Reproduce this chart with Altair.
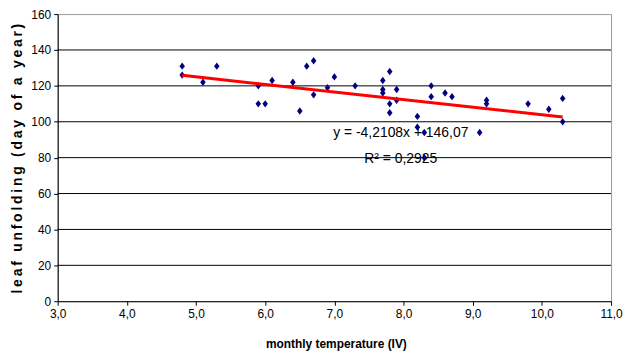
import altair as alt
import pandas as pd

# data
temp = [4.8, 4.8, 5.1, 5.3, 5.9, 5.9, 6.0, 6.1, 6.4, 6.5, 6.6, 6.7, 6.7, 6.9, 7.0, 7.3,
        7.7, 7.7, 7.7, 7.8, 7.8, 7.8, 7.9, 7.9, 8.2, 8.2, 8.3, 8.3, 8.4, 8.4, 8.6, 8.7,
        9.1, 9.2, 9.2, 9.8, 10.1, 10.3, 10.3]
day = [131, 126, 122, 131, 120, 110, 110, 123, 122, 106, 131, 134, 115, 119, 125, 120,
       123, 118, 116, 128, 110, 105, 118, 112, 103, 97, 94, 80, 120, 114, 116, 114,
       94, 112, 110, 110, 107, 113, 100]

slope = -4.2108
intercept = 146.07
line_x = [4.8, 10.3]

eq_labels = ["y = -4,2108x + 146,07", "R\u00b2 = 0,2925"]
eq_x = [7.96, 7.96]
eq_y = [94, 79]

x_ticks = [3, 4, 5, 6, 7, 8, 9, 10, 11]
y_ticks = [0, 20, 40, 60, 80, 100, 120, 140, 160]

FONT = "Liberation Sans"

pts = pd.DataFrame({"temp": temp, "day": day})
line_df = pd.DataFrame({"temp": line_x})
eq_df = pd.DataFrame({"label": eq_labels, "x": eq_x, "y": eq_y})
grid_df = pd.DataFrame({"g": y_ticks[1:-1]})

y_title = "\u2009".join(list("leaf unfolding (day of a year)"))

xscale = alt.Scale(domain=[3, 11], nice=False, zero=False)
yscale = alt.Scale(domain=[0, 160], nice=False)

xaxis = alt.Axis(
    title="monthly temperature (IV)",
    values=x_ticks,
    labelExpr="replace(format(datum.value, '.1f'), '.', ',')",
    labelOverlap=False,
    labelFlush=False,
    grid=False,
    domainColor="#000000",
    tickColor="#000000",
    tickSize=4,
    labelPadding=3,
    labelFont=FONT,
    labelFontSize=12,
    labelColor="#000000",
    titleFont=FONT,
    titleFontSize=12,
    titleFontWeight="bold",
    titleColor="#000000",
    titleX=280,
    titleY=43,
    titleBaseline="middle",
    titleAlign="center",
)

yaxis = alt.Axis(
    title=y_title,
    values=y_ticks,
    labelOverlap=False,
    labelFlush=False,
    grid=False,
    domainColor="#000000",
    tickColor="#000000",
    tickSize=4,
    labelPadding=3,
    labelFont=FONT,
    labelFontSize=12,
    labelColor="#000000",
    titleFont=FONT,
    titleFontSize=14,
    titleFontWeight="bold",
    titleColor="#000000",
    titleAngle=270,
    titleX=-40,
    titleY=145,
    titleAlign="center",
    titleBaseline="middle",
)

grid = alt.Chart(grid_df).mark_rule(color="#000000", strokeWidth=1).encode(
    y=alt.Y("g:Q", scale=yscale, axis=yaxis),
)

points = alt.Chart(pts).mark_point(
    shape="M0,-1L0.75,0L0,1L-0.75,0Z", filled=True, color="#000080", size=55, opacity=1
).encode(
    x=alt.X("temp:Q", scale=xscale, axis=xaxis),
    y=alt.Y("day:Q", scale=yscale, axis=yaxis),
)

trend = alt.Chart(line_df).transform_calculate(
    day=f"{slope} * datum.temp + {intercept}"
).mark_line(color="#FF0000", strokeWidth=3).encode(
    x=alt.X("temp:Q", scale=xscale, axis=xaxis),
    y=alt.Y("day:Q", scale=yscale, axis=yaxis),
)

eq = alt.Chart(eq_df).mark_text(
    font=FONT, fontSize=14, color="#000000", align="center", baseline="middle"
).encode(
    x=alt.X("x:Q", scale=xscale, axis=xaxis),
    y=alt.Y("y:Q", scale=yscale, axis=yaxis),
    text="label:N",
)

chart = alt.layer(grid, points, trend, eq).properties(
    width=557,
    height=289,
    autosize=alt.AutoSizeParams(type="none"),
    padding={"left": 50, "top": 5, "right": 12, "bottom": 52},
    background="#ffffff",
).configure_view(stroke="#999999", strokeWidth=1)

chart.save("out.html", embed_options={"renderer": "svg", "actions": False})
